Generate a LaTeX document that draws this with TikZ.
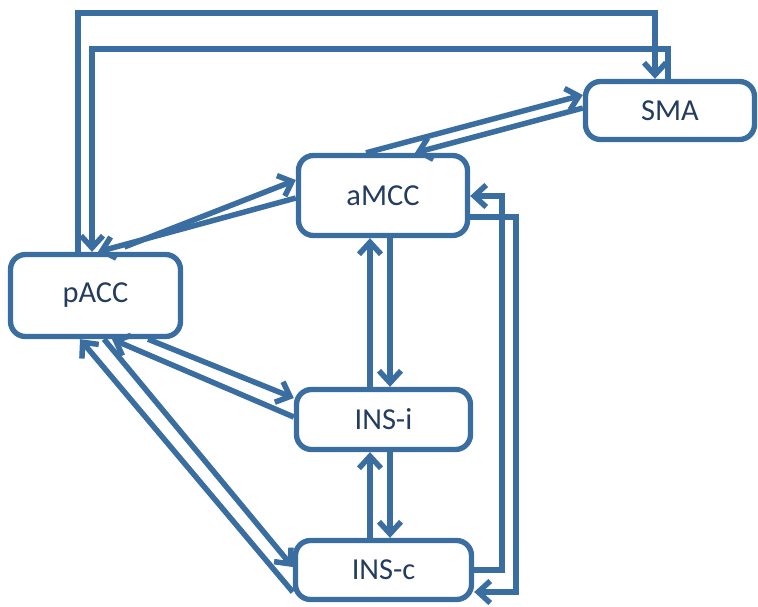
\documentclass[tikz,border=0pt]{standalone}
\usepackage{fontspec}
\setmainfont{Carlito}
\usetikzlibrary{arrows.meta}
\definecolor{bleu}{RGB}{58,110,160}
\definecolor{encre}{RGB}{35,60,95}
\begin{document}
\begin{tikzpicture}[x=0.03cm,y=-0.03cm]
	\tikzstyle{fleche}=[-{Straight Barb[length=0.36cm,width=0.66cm]},line width=0.165cm,draw=bleu]
	\tikzstyle{region}=[draw=bleu,line width=0.16cm,rounded corners=0.45cm,fill=white,text=encre,inner sep=0pt,font=\fontsize{26}{30}\selectfont]
	\useasboundingbox (0,0) rectangle (758,606);
	\node[region,minimum width=5.1cm,minimum height=2.46cm] (pACC) at (95.5,295.5) {pACC};
	\node[region,minimum width=5.07cm,minimum height=2.4cm] (aMCC) at (383,195.5) {aMCC};
	\node[region,minimum width=5.07cm,minimum height=1.74cm] (SMA) at (670,110.5) {SMA};
	\node[region,minimum width=5.22cm,minimum height=1.8cm] (INSi) at (383.5,419.5) {INS-i};
	\node[region,minimum width=5.28cm,minimum height=1.77cm] (INSc) at (383.5,570) {INS-c};
	% boucles du haut
	\draw[fleche] (pACC.north -| 78,0) -- (78,13) -| (SMA.north -| 655,0);
	\draw[fleche] (SMA.north -| 668,0) -- (668,49) -| (pACC.north -| 92,0);
	% pACC - aMCC - SMA
	\draw[fleche,shorten <=0.4cm] (pACC.north -| 112,0) -- (aMCC.west |- 0,180);
	\draw[fleche] (aMCC.west |- 0,198) -- (pACC.north -| 98,0);
	\draw[fleche] (aMCC.north -| 366,0) -- (SMA.west |- 0,95);
	\draw[fleche] (SMA.west |- 0,108) -- (aMCC.north -| 415,0);
	% colonne centrale
	\draw[fleche] (INSi.north -| 370,0) -- (aMCC.south -| 370,0);
	\draw[fleche] (aMCC.south -| 390,0) -- (INSi.north -| 390,0);
	\draw[fleche] (INSc.north -| 370,0) -- (INSi.south -| 370,0);
	\draw[fleche] (INSi.south -| 390,0) -- (INSc.north -| 390,0);
	% pACC - INS
	\draw[fleche] (pACC.south -| 148,0) -- (INSi.west |- 0,398);
	\draw[fleche] (INSi.west |- 0,417) -- (pACC.south -| 112,0);
	\draw[fleche] (pACC.south -| 104,0) -- (INSc.west |- 0,567);
	\draw[fleche] (INSc.west |- 0,592) -- (pACC.south -| 80,0);
	% cote droit
	\draw[fleche] (INSc.east |- 0,570) -| (502,196) -- (aMCC.east |- 0,196);
	\draw[fleche] (aMCC.east |- 0,217) -| (516,592) -- (INSc.east |- 0,592);
\end{tikzpicture}
\end{document}
